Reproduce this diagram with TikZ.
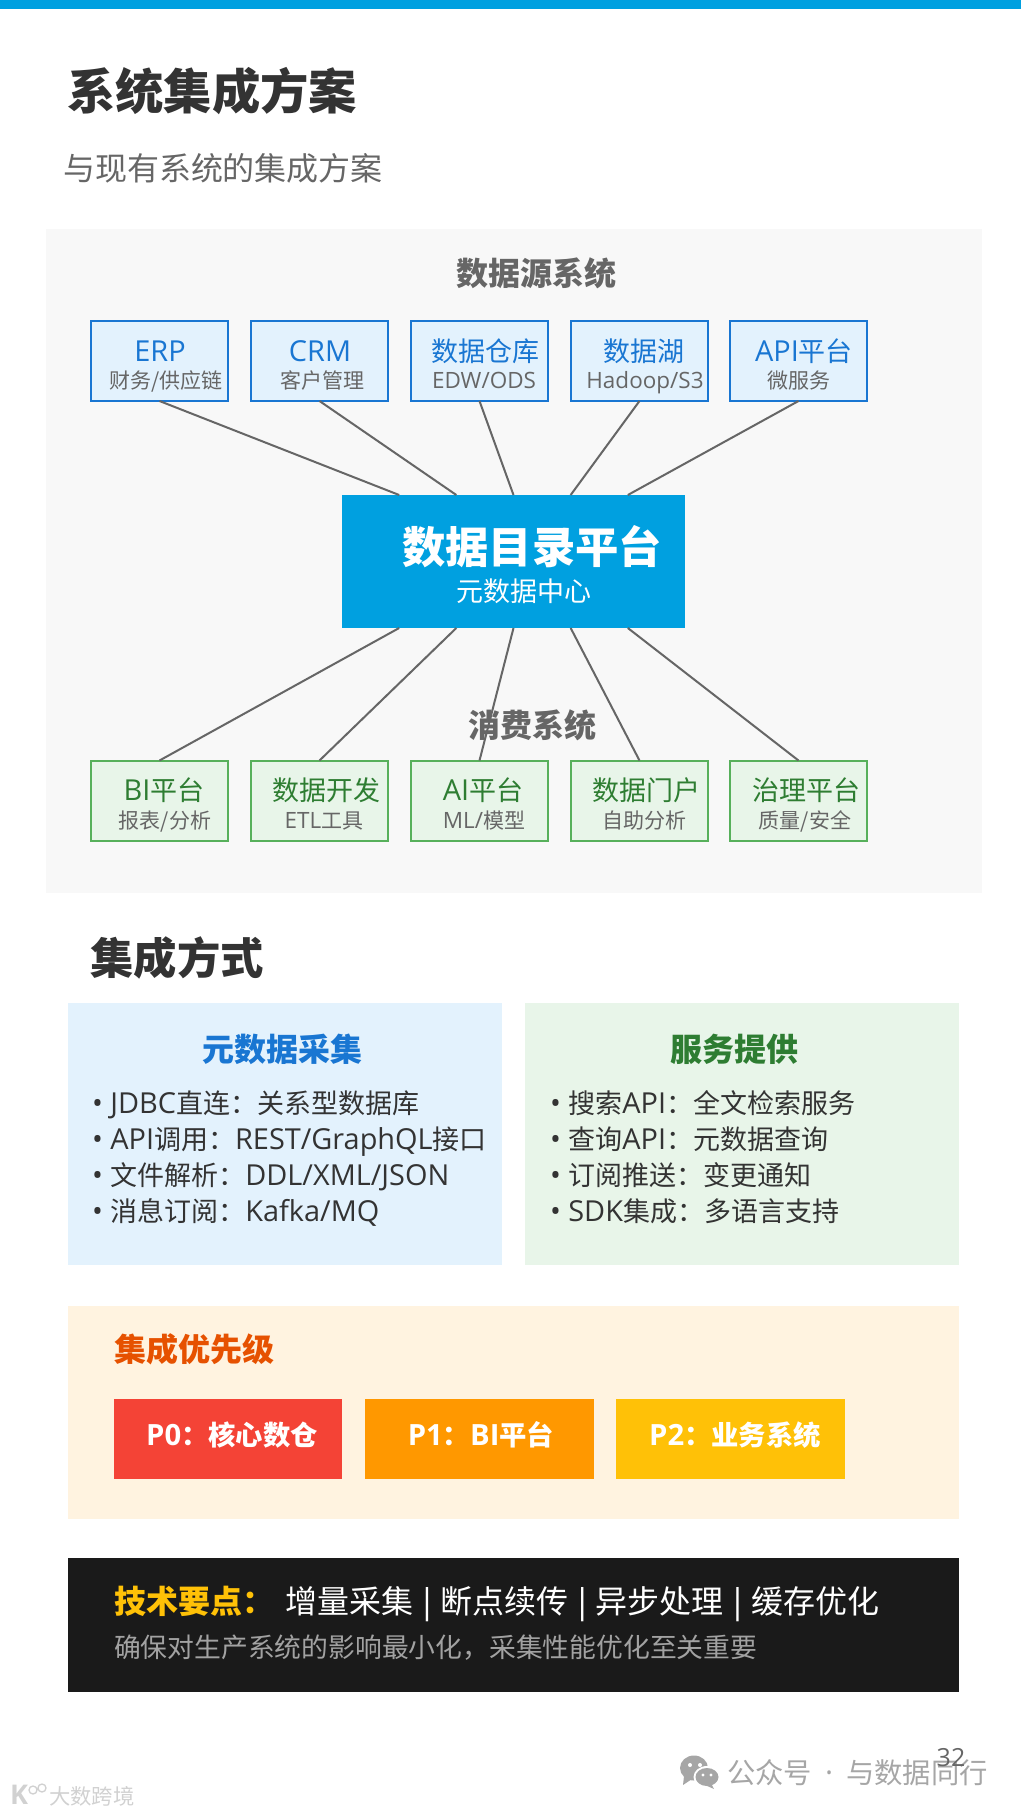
\documentclass[tikz,border=0pt]{standalone}
\usepackage{fontspec}
\usepackage{tikz}
\usepackage{xcolor}
\usetikzlibrary{positioning, calc}
\setmainfont{Noto Sans CJK SC}
\newfontfamily\latinfont[Scale=1.07]{Open Sans}
\definecolor{CatalogBlue}{HTML}{00A0E0}
\definecolor{PanelGray}{HTML}{F8F8F8}
\definecolor{SrcFill}{HTML}{E3F2FD}
\definecolor{SrcLine}{HTML}{1976D2}
\definecolor{UseFill}{HTML}{E8F5E9}
\definecolor{UseLine}{HTML}{57B05B}
\definecolor{UseText}{HTML}{2E7D32}
\definecolor{PrioFill}{HTML}{FFF3E0}
\definecolor{PrioText}{HTML}{E65100}
\definecolor{ChipRed}{HTML}{F44336}
\definecolor{ChipOrange}{HTML}{FF9800}
\definecolor{ChipAmber}{HTML}{FFC107}
\definecolor{NoteBlack}{HTML}{1A1A1A}
\definecolor{InkDark}{HTML}{333333}
\definecolor{InkMid}{HTML}{666666}
\definecolor{MarkGray}{HTML}{A6A6A6}
\newcommand{\pxfont}[1]{\fontsize{#1}{#1}\selectfont}
\newcommand{\lat}[1]{{\latinfont #1}}
\newcommand{\barsep}{\hspace{.13em}\lat{|}\hspace{.13em}}
\tikzset{
  txt/.style={inner sep=0pt, outer sep=0pt},
  panel/.style={rectangle, inner sep=0pt, outer sep=0pt},
  srcbox/.style={panel, draw=SrcLine, line width=1.5pt, fill=SrcFill, minimum width=102.75pt, minimum height=60pt},
  usebox/.style={panel, draw=UseLine, line width=1.5pt, fill=UseFill, minimum width=102.75pt, minimum height=60pt},
  chipbox/.style={panel, minimum height=60pt},
  boxmain/.style={txt, anchor=base, font=\pxfont{20.25}},
  boxsub/.style={txt, anchor=base, InkMid, font=\pxfont{15.75}},
  section/.style={txt, InkMid, font=\pxfont{24}\bfseries},
  bullet/.style={txt, anchor=base west, InkDark, font=\pxfont{20.25}},
  chiptext/.style={txt, anchor=base, white, font=\pxfont{20.5}\bfseries},
  link/.style={InkMid, line width=1.5pt},
}
\begin{document}
\begin{tikzpicture}[x=0.75pt, y=-0.75pt]
    \useasboundingbox (0,0) rectangle (1021,1814);
    \fill[CatalogBlue] (0,0) rectangle (1021,9);

    % heading
    \node[txt, anchor=west, InkDark, font=\pxfont{36.25}\bfseries] (title) at (67,91) {系统集成方案};
    \node[txt, anchor=west, InkMid, font=\pxfont{24}] (subtitle) at (63,168) {与现有系统的集成方案};

    % architecture
    \node[panel, fill=PanelGray, minimum width=702pt, minimum height=498pt] (archpanel) at (514,560.5) {};
    \node[section] (srchead) at (536,273) {数据源系统};
    \node[section] (usehead) at (532,725) {消费系统};

    \node[panel, fill=CatalogBlue, minimum width=257.25pt, minimum height=99.75pt] (hub) at (513.5,561.5) {};
    \node[txt, white, font=\pxfont{32.5}\bfseries] (hubmain) at (532,547) {数据目录平台};
    \node[txt, white, font=\pxfont{20.25}] (hubsub) at (524,591) {元数据中心};

    \node[srcbox] (erp) at (159.5,361) {};
    \node[srcbox] (crm) at (319.5,361) {};
    \node[srcbox] (dwh) at (479.5,361) {};
    \node[srcbox] (lake) at (639.5,361) {};
    \node[srcbox] (api) at (798.5,361) {};
    \node[boxmain, SrcLine] (erpmain) at (160,361) {\lat{ERP}};
    \node[boxmain, SrcLine] (crmmain) at (320,361) {\lat{CRM}};
    \node[boxmain, SrcLine] (dwhmain) at (485,361) {数据仓库};
    \node[boxmain, SrcLine] (lakemain) at (644,361) {数据湖};
    \node[boxmain, SrcLine] (apimain) at (804,361) {\lat{API}平台};
    \node[boxsub] (erpsub) at (166,388) {财务/供应链};
    \node[boxsub] (crmsub) at (322,388) {客户管理};
    \node[boxsub] (dwhsub) at (484,388) {\lat{EDW/ODS}};
    \node[boxsub] (lakesub) at (645,388) {\lat{Hadoop/S3}};
    \node[boxsub] (apisub) at (799,388) {微服务};

    \node[usebox] (bi) at (159.5,800.5) {};
    \node[usebox] (dev) at (319.5,800.5) {};
    \node[usebox] (ai) at (479.5,800.5) {};
    \node[usebox] (portal) at (639.5,800.5) {};
    \node[usebox] (gov) at (798.5,800.5) {};
    \node[boxmain, UseText] (bimain) at (164,800) {\lat{BI}平台};
    \node[boxmain, UseText] (devmain) at (326,800) {数据开发};
    \node[boxmain, UseText] (aimain) at (483,800) {\lat{AI}平台};
    \node[boxmain, UseText] (portalmain) at (646,800) {数据门户};
    \node[boxmain, UseText] (govmain) at (806,800) {治理平台};
    \node[boxsub] (bisub) at (165,828) {报表/分析};
    \node[boxsub] (devsub) at (324,828) {\lat{ETL}工具};
    \node[boxsub] (aisub) at (484,828) {\lat{ML/}模型};
    \node[boxsub] (portalsub) at (644,828) {自助分析};
    \node[boxsub] (govsub) at (805,828) {质量/安全};

    \draw[link] (erp.south) -- ($(hub.north west)!1/6!(hub.north east)$);
    \draw[link] (crm.south) -- ($(hub.north west)!2/6!(hub.north east)$);
    \draw[link] (dwh.south) -- ($(hub.north west)!3/6!(hub.north east)$);
    \draw[link] (lake.south) -- ($(hub.north west)!4/6!(hub.north east)$);
    \draw[link] (api.south) -- ($(hub.north west)!5/6!(hub.north east)$);
    \draw[link] ($(hub.south west)!1/6!(hub.south east)$) -- (bi.north);
    \draw[link] ($(hub.south west)!2/6!(hub.south east)$) -- (dev.north);
    \draw[link] ($(hub.south west)!3/6!(hub.south east)$) -- (ai.north);
    \draw[link] ($(hub.south west)!4/6!(hub.south east)$) -- (portal.north);
    \draw[link] ($(hub.south west)!5/6!(hub.south east)$) -- (gov.north);

    % integration
    \node[txt, anchor=west, InkDark, font=\pxfont{32.5}\bfseries] (methodhead) at (90.5,958) {集成方式};
    \node[panel, fill=SrcFill, minimum width=325.5pt, minimum height=196.5pt] (collect) at (285,1134) {};
    \node[panel, fill=UseFill, minimum width=325.5pt, minimum height=196.5pt] (serve) at (742,1134) {};
    \node[txt, SrcLine, font=\pxfont{24}\bfseries] (collecthead) at (282,1049) {元数据采集};
    \node[txt, UseText, font=\pxfont{24}\bfseries] (servehead) at (734,1049) {服务提供};
    \node[bullet] (collecta) at (92,1113) {\lat{• JDBC}直连：关系型数据库};
    \node[bullet] (collectb) at (92,1149) {\lat{• API}调用：\lat{REST/GraphQL}接口};
    \node[bullet] (collectc) at (92,1185) {\lat{• }文件解析：\lat{DDL/XML/JSON}};
    \node[bullet] (collectd) at (92,1221) {\lat{• }消息订阅：\lat{Kafka/MQ}};
    \node[bullet] (servea) at (550,1113) {\lat{• }搜索\lat{API}：全文检索服务};
    \node[bullet] (serveb) at (550,1149) {\lat{• }查询\lat{API}：元数据查询};
    \node[bullet] (servec) at (550,1185) {\lat{• }订阅推送：变更通知};
    \node[bullet] (served) at (550,1221) {\lat{• SDK}集成：多语言支持};

    % priority
    \node[panel, fill=PrioFill, minimum width=668.25pt, minimum height=159.75pt] (prio) at (513.5,1412.5) {};
    \node[txt, anchor=west, PrioText, font=\pxfont{24}\bfseries] (priohead) at (114,1349) {集成优先级};
    \node[chipbox, fill=ChipRed, minimum width=171pt] (pzero) at (228,1439) {};
    \node[chipbox, fill=ChipOrange, minimum width=171.75pt] (pone) at (479.5,1439) {};
    \node[chipbox, fill=ChipAmber, minimum width=171.75pt] (ptwo) at (730.5,1439) {};
    \node[chiptext] (pzerotext) at (232,1445) {\lat{P0}：核心数仓};
    \node[chiptext] (ponetext) at (481,1445) {\lat{P1}：\lat{BI}平台};
    \node[chiptext] (ptwotext) at (735,1445) {\lat{P2}：业务系统};

    % notes
    \node[panel, fill=NoteBlack, minimum width=668.25pt, minimum height=100.5pt] (notes) at (513.5,1625) {};
    \node[txt, anchor=base west, ChipAmber, font=\pxfont{24}\bfseries] (noteskey) at (114,1613) {技术要点：};
    \node[txt, anchor=base west, white, font=\pxfont{24}] (notesline) at (285.5,1613) {增量采集\barsep 断点续传\barsep 异步处理\barsep 缓存优化};
    \node[txt, anchor=base west, lightgray!85!black, font=\pxfont{20.1}] (notessub) at (114,1657) {确保对生产系统的影响最小化，采集性能优化至关重要};

    % footer
    \fill[MarkGray] (694,1768) ellipse [x radius=14, y radius=12.5];
    \fill[MarkGray] (684,1776) -- (683,1785) -- (692,1779) -- cycle;
    \fill[white] (690,1765) circle (2) (700,1765) circle (2);
    \fill[white] (707,1777) ellipse [x radius=13.5, y radius=11];
    \fill[MarkGray] (707,1777) ellipse [x radius=11.5, y radius=9];
    \fill[MarkGray] (711,1783) -- (714,1789) -- (705,1785) -- cycle;
    \fill[white] (703,1775) circle (1.6) (711,1775) circle (1.6);
    \node[txt, anchor=west, MarkGray, font=\pxfont{21.25}] (mark) at (727,1773) {公众号\hspace{.46em}\lat{·}\hspace{.46em}与数据同行};
    \node[txt, InkMid, font=\pxfont{17.5}] (pagenum) at (951,1758) {\lat{32}};
    \node[txt, anchor=west, black!18, font=\pxfont{16}] (logotext) at (49,1796) {大数跨境};
    \node[txt, black!18, font=\pxfont{19}\bfseries] (logok) at (19,1795) {\lat{K}};
    \draw[black!18, line width=1pt] (33,1790) circle (4) (42,1788) circle (4);
\end{tikzpicture}
\end{document}
